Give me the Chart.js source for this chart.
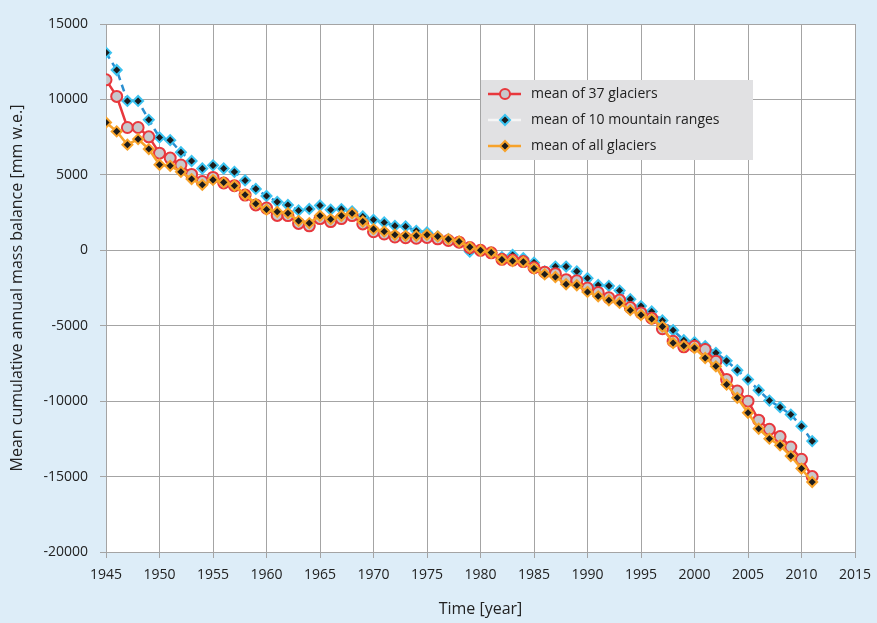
<!DOCTYPE html>
<html>
<head>
<meta charset="utf-8">
<script src="https://cdn.jsdelivr.net/npm/chart.js@4.4.1/dist/chart.umd.min.js"></script>
<style>
  html, body { margin: 0; padding: 0; background: #ddedf8; }
  #wrap { width: 877px; height: 623px; position: relative; }
</style>
</head>
<body>
<div id="wrap"><canvas id="chart" width="877" height="623"></canvas></div>
<script>
/* ── data ── */
const years = [
  1945, 1946, 1947, 1948, 1949, 1950, 1951, 1952, 1953, 1954,
  1955, 1956, 1957, 1958, 1959, 1960, 1961, 1962, 1963, 1964,
  1965, 1966, 1967, 1968, 1969, 1970, 1971, 1972, 1973, 1974,
  1975, 1976, 1977, 1978, 1979, 1980, 1981, 1982, 1983, 1984,
  1985, 1986, 1987, 1988, 1989, 1990, 1991, 1992, 1993, 1994,
  1995, 1996, 1997, 1998, 1999, 2000, 2001, 2002, 2003, 2004,
  2005, 2006, 2007, 2008, 2009, 2010, 2011
];

const glaciers37 = [
  11300, 10200, 8140, 8140, 7520, 6440, 6110, 5650, 5030, 4560,
  4830, 4460, 4280, 3660, 3010, 2800, 2310, 2300, 1780, 1620,
  2100, 1900, 2100, 2300, 1750, 1230, 1080, 880, 830, 800,
  850, 760, 650, 540, 180, 0, -170, -600, -650, -750,
  -1150, -1450, -1550, -1950, -2020, -2500, -2800, -3150, -3300, -3800,
  -4150, -4500, -5200, -6030, -6400, -6360, -6580, -7350, -8560, -9330,
  -10000, -11260, -11870, -12350, -13040, -13850, -15000
];

const mountainRanges10 = [
  13100, 11950, 9900, 9900, 8650, 7480, 7300, 6500, 5920, 5420,
  5630, 5420, 5200, 4630, 4070, 3600, 3210, 3000, 2640, 2740,
  2970, 2690, 2730, 2570, 2240, 2020, 1840, 1620, 1580, 1290,
  1180, 920, 740, 520, -80, 0, -150, -460, -310, -530,
  -820, -1400, -1080, -1080, -1400, -1850, -2300, -2360, -2670, -3240,
  -3700, -4060, -4650, -5300, -5960, -6090, -6360, -6800, -7330, -7950,
  -8570, -9280, -9960, -10400, -10890, -11660, -12650
];

const allGlaciers = [
  8470, 7880, 7000, 7370, 6710, 5670, 5600, 5200, 4720, 4340,
  4670, 4500, 4280, 3680, 3080, 2700, 2550, 2460, 1950, 1800,
  2290, 2060, 2290, 2460, 1910, 1400, 1250, 1030, 960, 960,
  1030, 920, 740, 580, 210, 0, -150, -620, -710, -770,
  -1210, -1590, -1770, -2250, -2320, -2760, -3050, -3310, -3490, -3970,
  -4290, -4560, -5060, -6150, -6330, -6480, -7140, -7690, -8900, -9780,
  -10770, -11830, -12490, -12930, -13640, -14470, -15360
];

const xTicks = [1945, 1950, 1955, 1960, 1965, 1970, 1975, 1980, 1985, 1990, 1995, 2000, 2005, 2010, 2015];
const yTicks = [-20000, -15000, -10000, -5000, 0, 5000, 10000, 15000];

const legendLabels = ['mean of 37 glaciers', 'mean of 10 mountain ranges', 'mean of all glaciers'];

/* ── colours ── */
const RED = '#e8383d', RED_FILL = '#c8c8cc';
const BLUE_LINE = '#2b8fd0', CYAN = '#3cc3f0';
const ORANGE = '#f7a22a', BLACK = '#1c1c1c';
const GRID = '#a4a4a4', TEXT = '#222222';
const FONT = "'Open Sans', 'DejaVu Sans', sans-serif";

const toPoints = vals => years.map((yr, i) => ({ x: yr, y: vals[i] }));

/* ── page background + white plot area ── */
const backdrop = {
  id: 'backdrop',
  beforeDraw(chart) {
    const { ctx, chartArea: a, width, height } = chart;
    ctx.save();
    ctx.fillStyle = '#ddedf8';
    ctx.fillRect(0, 0, width, height);
    ctx.fillStyle = '#ffffff';
    ctx.fillRect(a.left, a.top, a.right - a.left, a.bottom - a.top);
    ctx.restore();
  },
};

/* ── marker helpers for the boxed legend ── */
function diamond(ctx, x, y, r, fill, stroke, lw) {
  ctx.beginPath();
  ctx.moveTo(x, y - r); ctx.lineTo(x + r, y); ctx.lineTo(x, y + r); ctx.lineTo(x - r, y);
  ctx.closePath();
  ctx.fillStyle = fill; ctx.fill();
  ctx.lineWidth = lw; ctx.strokeStyle = stroke; ctx.stroke();
}

const boxLegend = {
  id: 'boxLegend',
  afterDatasetsDraw(chart) {
    const { ctx, chartArea: a } = chart;
    const left = a.left + 375, top = a.top + 56;
    ctx.save();
    ctx.fillStyle = '#e1e1e3';
    ctx.fillRect(left, top, 272, 80);

    const rows = [
      { line: RED, draw: (x, y) => {
          ctx.beginPath(); ctx.arc(x, y, 5, 0, Math.PI * 2);
          ctx.fillStyle = RED_FILL; ctx.fill();
          ctx.lineWidth = 2; ctx.strokeStyle = RED; ctx.stroke();
        } },
      { line: '#f6f6f6', draw: (x, y) => diamond(ctx, x, y, 5, BLACK, CYAN, 2) },
      { line: ORANGE, draw: (x, y) => diamond(ctx, x, y, 5, BLACK, ORANGE, 2) },
    ];

    rows.forEach((r, i) => {
      const y = top + 14 + i * 26;
      ctx.beginPath();
      ctx.moveTo(left + 7, y); ctx.lineTo(left + 40, y);
      ctx.lineWidth = 2.5; ctx.strokeStyle = r.line; ctx.stroke();
      r.draw(left + 24, y);
      ctx.fillStyle = TEXT;
      ctx.font = '14px ' + FONT;
      ctx.textBaseline = 'middle';
      ctx.fillText(legendLabels[i], left + 50, y);
    });
    ctx.restore();
  },
};

new Chart(document.getElementById('chart'), {
  type: 'line',
  data: {
    datasets: [
      {
        label: legendLabels[2],
        data: toPoints(allGlaciers),
        borderColor: ORANGE, borderWidth: 2.5,
        pointStyle: 'rectRot', pointRadius: 5,
        pointBackgroundColor: BLACK, pointBorderColor: ORANGE, pointBorderWidth: 2,
        order: 0,
      },
      {
        label: legendLabels[0],
        data: toPoints(glaciers37),
        borderColor: RED, borderWidth: 2.5,
        pointStyle: 'circle', pointRadius: 5.5,
        pointBackgroundColor: RED_FILL, pointBorderColor: RED, pointBorderWidth: 2,
        order: 1,
      },
      {
        label: legendLabels[1],
        data: toPoints(mountainRanges10),
        borderColor: BLUE_LINE, borderWidth: 2.5, borderDash: [7, 5],
        pointStyle: 'rectRot', pointRadius: 5,
        pointBackgroundColor: BLACK, pointBorderColor: CYAN, pointBorderWidth: 2,
        order: 2,
      },
    ],
  },
  options: {
    responsive: false,
    animation: false,
    layout: { padding: { left: 8, right: 22, top: 24, bottom: 4 } },
    plugins: { legend: { display: false }, tooltip: { enabled: false } },
    scales: {
      x: {
        type: 'linear',
        min: 1945, max: 2015,
        afterBuildTicks: s => { s.ticks = xTicks.map(v => ({ value: v })); },
        afterFit: s => { s.height = 67; s.paddingLeft = 0; s.paddingRight = 0; },
        grid: { color: GRID, lineWidth: 1, tickLength: 6, tickColor: GRID },
        border: { color: GRID },
        ticks: { color: TEXT, font: { family: FONT, size: 14 }, padding: 9, maxRotation: 0, callback: v => String(v) },
        title: { display: true, text: 'Time [year]', color: TEXT, font: { family: FONT, size: 16 }, padding: { top: 0, bottom: 0 } },
      },
      y: {
        min: -20000, max: 15000,
        afterBuildTicks: s => { s.ticks = yTicks.map(v => ({ value: v })); },
        afterFit: s => { s.width = 98; s.paddingTop = 0; s.paddingBottom = 0; },
        grid: { color: GRID, lineWidth: 1, tickLength: 6, tickColor: GRID },
        border: { color: GRID },
        ticks: { color: TEXT, font: { family: FONT, size: 14 }, padding: 12, callback: v => String(v) },
        title: { display: true, text: 'Mean cumulative annual mass balance [mm w.e.]', color: TEXT, font: { family: FONT, size: 16 }, padding: { top: 0, bottom: 0 } },
      },
    },
  },
  plugins: [backdrop, boxLegend],
});
</script>
</body>
</html>
